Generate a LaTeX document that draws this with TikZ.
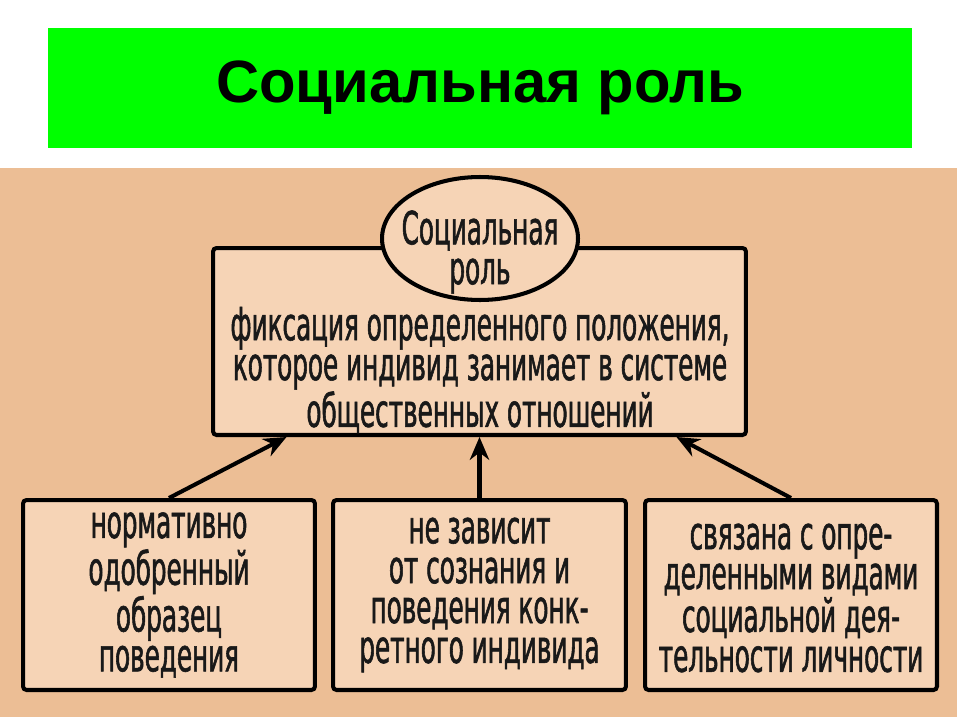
\documentclass[tikz,border=0pt]{standalone}
\usepackage{fontspec}
\setmainfont{Liberation Sans}
\newfontfamily\hand[FakeStretch=0.54,FakeBold=1.2]{DejaVu Sans}
\usetikzlibrary{shapes.geometric,arrows.meta}
\definecolor{tanbg}{HTML}{ECBE95}
\definecolor{boxfill}{HTML}{F6D4B6}
\definecolor{titlegreen}{HTML}{00FF00}
\tikzset{
  boxstyle/.style={draw=black, fill=boxfill, line width=2.3pt, rounded corners=2pt, inner sep=0pt},
  ellstyle/.style={ellipse, draw=black, fill=boxfill, line width=2.3pt, inner sep=0pt, minimum width=3.92cm, minimum height=2.46cm},
  handtext/.style={font=\hand\fontsize{26}{22.7}\selectfont, align=center, inner sep=0pt, text=black!90},
  arr/.style={line width=2.3pt, -{Stealth[length=13pt,width=11pt]}},
}
\begin{document}
\begin{tikzpicture}[x=0.02cm,y=-0.02cm]
\fill[white] (0,0) rectangle (960,720);
\useasboundingbox (0,0) rectangle (960,720);
\node[fill=titlegreen, minimum width=17.28cm, minimum height=2.4cm, inner sep=0pt,
      font=\fontsize{34}{40}\selectfont\bfseries] (title) at (480,88) {Социальная роль};
\fill[tanbg] (0,168) rectangle (957,717);
\node[boxstyle, minimum width=10.66cm, minimum height=3.74cm] (main) at (479.5,341.5) {};
\node[ellstyle] (ell) at (480,238.5) {};
\node[handtext] (ellt) at (480,252) {Социальная\\роль};
\node[handtext] (maint) at (480,370) {фиксация определенного положения,\\которое индивид занимает в системе\\общественных отношений};
\node[boxstyle, minimum width=5.84cm, minimum height=3.8cm] (b1) at (169,595) {};
\node[boxstyle, minimum width=5.86cm, minimum height=3.8cm] (b2) at (479.5,595) {};
\node[boxstyle, minimum width=5.84cm, minimum height=3.8cm] (b3) at (791,595) {};
\node[handtext] (b1t) at (b1.center) {нормативно\\одобренный\\образец\\поведения};
\node[handtext] (b2t) at (b2.center) {не зависит\\от сознания и\\поведения конк-\\ретного индивида};
\node[handtext] (b3t) at ([yshift=-0.06cm]b3.center) {связана с опре-\\деленными видами\\социальной дея-\\тельности личности};
\draw[arr] (b1.north) -- ([xshift=-3.86cm]main.south);
\draw[arr] (b2.north) -- (main.south);
\draw[arr] (b3.north) -- ([xshift=3.94cm]main.south);
\end{tikzpicture}
\end{document}
